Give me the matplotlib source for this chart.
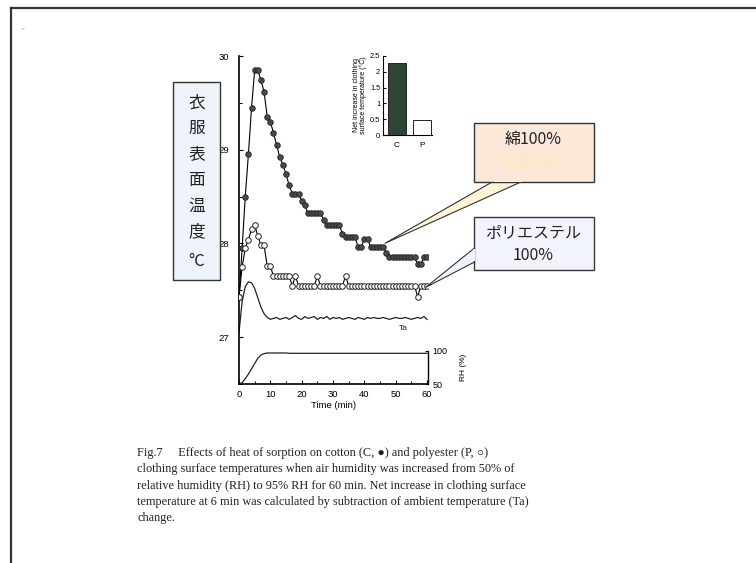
import matplotlib
matplotlib.use('Agg')
import matplotlib.pyplot as plt
from matplotlib.patches import Rectangle, Polygon
from matplotlib.lines import Line2D

# data (time in min, temperature in deg C)
time_min = list(range(61))
cotton = [27.43, 27.95, 28.50, 28.95, 29.45, 29.85, 29.85, 29.74, 29.62, 29.35,
          29.30, 29.18, 29.05, 28.92, 28.84, 28.74, 28.62, 28.53, 28.53, 28.53,
          28.45, 28.41, 28.32, 28.32, 28.32, 28.32, 28.32, 28.25, 28.20, 28.20,
          28.20, 28.20, 28.20, 28.10, 28.07, 28.07, 28.07, 28.07, 27.96, 27.96,
          28.05, 28.05, 27.96, 27.96, 27.96, 27.96, 27.96, 27.90, 27.85, 27.85,
          27.85, 27.85, 27.85, 27.85, 27.85, 27.85, 27.85, 27.78, 27.78, 27.85,
          27.85]
polyester = [27.43, 27.75, 27.95, 28.04, 28.15, 28.20, 28.08, 27.98, 27.98, 27.76,
             27.76, 27.65, 27.65, 27.65, 27.65, 27.65, 27.65, 27.55, 27.65, 27.55,
             27.55, 27.55, 27.55, 27.55, 27.55, 27.65, 27.55, 27.55, 27.55, 27.55,
             27.55, 27.55, 27.55, 27.55, 27.65, 27.55, 27.55, 27.55, 27.55, 27.55,
             27.55, 27.55, 27.55, 27.55, 27.55, 27.55, 27.55, 27.55, 27.55, 27.55,
             27.55, 27.55, 27.55, 27.55, 27.55, 27.55, 27.55, 27.43, 27.55, 27.55,
             27.55]
ta = [27.05, 27.38, 27.54, 27.59, 27.58, 27.52, 27.42, 27.32, 27.25, 27.21,
      27.19, 27.20, 27.21, 27.19, 27.20, 27.21, 27.19, 27.21, 27.23, 27.20,
      27.19, 27.22, 27.20, 27.21, 27.22, 27.19, 27.21, 27.20, 27.22, 27.19,
      27.21, 27.20, 27.21, 27.19, 27.20, 27.21, 27.20, 27.19, 27.21, 27.20,
      27.19, 27.21, 27.20, 27.21, 27.20, 27.20, 27.21, 27.20, 27.19, 27.20,
      27.21, 27.20, 27.20, 27.21, 27.20, 27.19, 27.20, 27.21, 27.20, 27.22,
      27.19]
rh = [50, 52, 58, 65, 73, 81, 89, 94, 96, 97, 97, 97, 97, 97, 97, 97,
      96.5, 96.5, 96.5, 96.5, 96.5, 96.5, 96.5, 96.5, 96.5, 96.5, 96.5, 96.5,
      96.5, 96.5, 96.5, 96.5, 96.5, 96.5, 96.5, 96.5, 96.5, 96.5, 96.5, 96.5,
      96.5, 96.5, 96.5, 96.5, 96.5, 96.5, 96.5, 96.5, 96.5, 96.5, 96.5, 96.5,
      96.5, 96.5, 96.5, 96.5, 96.5, 96.5, 96.5, 96.5, 96.5]

bar_labels = ['C', 'P']
bar_values = [2.29, 0.47]

caption = [
    'Fig.7     Effects of heat of sorption on cotton (C, \u25cf) and polyester (P, \u25cb)',
    'clothing surface temperatures when air humidity was increased from 50% of',
    'relative humidity (RH) to 95% RH for 60 min. Net increase in clothing surface',
    'temperature at 6 min was calculated by subtraction of ambient temperature (Ta)',
    'change.',
]

W, H = 756, 563
jp = ['Noto Sans CJK JP', 'DejaVu Sans']
sans = ['Liberation Sans', 'DejaVu Sans']
serif = ['Liberation Serif', 'DejaVu Serif']

fig = plt.figure(figsize=(W / 100, H / 100), dpi=100)

def px_axes(x0, y0, x1, y1):
    # rectangle given in image pixels (top-left origin)
    return [x0 / W, 1 - y1 / H, (x1 - x0) / W, (y1 - y0) / H]

# main temperature plot
ax = fig.add_axes(px_axes(239, 56, 428, 384))
ax.set_xlim(0, 60.3)
ax.set_ylim(26.54, 30.0)
ax.plot(time_min, cotton, color='black', lw=0.8, marker='o', ms=4.0,
        mfc='#4a4a4a', mec='#222222', mew=0.6, zorder=3)
ax.plot(time_min, polyester, color='black', lw=0.8, marker='o', ms=4.0,
        mfc='white', mec='#222222', mew=0.7, zorder=3)
ax.plot(time_min, ta, color='#222222', lw=0.9, zorder=2)
ax.text(51, 27.08, 'Ta', fontsize=6, family=sans, color='#222222')
ax.set_yticks([27, 28, 29, 30])
ax.set_yticks([26.5, 27.5, 28.5, 29.5], minor=True)
ax.set_xticks(range(0, 61, 10))
ax.set_xticks(range(0, 61, 5), minor=True)
ax.tick_params(direction='in', length=3, width=0.8, labelsize=6.8, pad=4)
ax.tick_params(which='minor', direction='in', length=2, width=0.7)
ax.tick_params(axis='y', pad=7)
for lab in ax.get_xticklabels() + ax.get_yticklabels():
    lab.set_family(sans)
ax.set_xlabel('Time (min)', fontsize=6.8, family=sans, labelpad=2)
for s in ['top', 'right']:
    ax.spines[s].set_visible(False)
for s in ['left', 'bottom']:
    ax.spines[s].set_linewidth(1.2)
ax.patch.set_alpha(0)

# RH panel at the bottom of the main plot
rax = fig.add_axes(px_axes(239, 351, 428, 384))
rax.set_xlim(0, 60.3)
rax.set_ylim(50, 100)
rax.plot(time_min, rh, color='#222222', lw=0.9)
rax.patch.set_alpha(0)
for s in ['top', 'left', 'bottom']:
    rax.spines[s].set_visible(False)
rax.spines['right'].set_linewidth(1.0)
rax.set_xticks([])
rax.yaxis.tick_right()
rax.set_yticks([50, 100])
rax.tick_params(axis='y', direction='in', length=2.5, labelsize=6.5, pad=3)
for lab in rax.get_yticklabels():
    lab.set_family(sans)
rax.yaxis.set_label_position('right')
rax.set_ylabel('RH (%)', fontsize=6, family=sans, labelpad=9)

# inset bar chart
bax = fig.add_axes(px_axes(383, 56, 432, 135))
bax.bar([0, 1], bar_values, width=0.72, color=['#2e4536', 'white'],
        edgecolor='#222222', linewidth=0.7)
bax.set_xlim(-0.55, 1.4)
bax.set_ylim(0, 2.5)
bax.set_yticks([0, 0.5, 1, 1.5, 2, 2.5])
bax.set_yticklabels(['0', '0.5', '1', '1.5', '2', '2.5'])
bax.set_xticks([0, 1])
bax.set_xticklabels(bar_labels)
bax.tick_params(axis='y', direction='in', length=2, labelsize=5.3, pad=2)
bax.tick_params(axis='x', length=0, labelsize=6, pad=5)
for lab in bax.get_xticklabels() + bax.get_yticklabels():
    lab.set_family(sans)
bax.set_ylabel('Net increase in clothing\nsurface temperature (\u00b0C)',
               fontsize=5, family=sans, labelpad=2, linespacing=1.0)
for s in ['top', 'right']:
    bax.spines[s].set_visible(False)
bax.patch.set_alpha(0)

# overlay in image pixels for boxes, callouts, caption and frame
ov = fig.add_axes([0, 0, 1, 1], zorder=5)
ov.set_xlim(0, W)
ov.set_ylim(H, 0)
ov.axis('off')

def to_px(axes, x, y):
    dx, dy = axes.transData.transform((x, y))
    return dx, H - dy

# page frame
ov.add_line(Line2D([11, 11], [7.5, H], color='#333333', lw=1.6))
ov.add_line(Line2D([11, W], [7.5, 7.5], color='#333333', lw=1.6))
ov.text(20, 35, '\u02dc', fontsize=6, color='#aaaaaa')

# vertical label box
ov.add_patch(Rectangle((173, 82), 47, 198, facecolor='#eef4fa',
                       edgecolor='#333333', lw=1.0))
for i, ch in enumerate('衣服表面温度'):
    ov.text(196.5, 103 + i * 25.8, ch, fontsize=12, family=jp,
            ha='center', va='center', color='#222222')
ov.text(196.5, 262, '\u00b0C', fontsize=12, family=jp, ha='center',
        va='center', color='#222222')

# cotton callout
tipx, tipy = to_px(ax, 46.5, 28.0)
ov.add_patch(Polygon([(493, 181.5), (522, 181.5), (tipx, tipy)], closed=True,
                     facecolor='#fdf5d6', edgecolor='#333333', lw=0.8))
ov.add_patch(Rectangle((474, 123), 119.5, 59, facecolor='#fbe8d8',
                       edgecolor='#333333', lw=1.0))
ov.add_patch(Rectangle((493.6, 180.8), 28, 1.6, facecolor='#fdf5d6',
                       edgecolor='none', zorder=3))
ov.text(533.5, 139, '綿100%', fontsize=11.5, family=jp, ha='center',
        va='center', color='#222222')
ov.text(530, 162, '吸湿発熱', fontsize=10.5, family=jp, ha='center',
        va='center', color='#f7ecbc')

# polyester callout
tipx, tipy = to_px(ax, 59.5, 27.53)
ov.add_patch(Polygon([(474.5, 248), (474.5, 262), (tipx, tipy)], closed=True,
                     facecolor='#eef3fa', edgecolor='#333333', lw=0.8))
ov.add_patch(Rectangle((474, 217), 119.5, 52.5, facecolor='#f1f5fb',
                       edgecolor='#333333', lw=1.0))
ov.add_patch(Rectangle((473, 248.6), 2.2, 12.8, facecolor='#eef3fa',
                       edgecolor='none', zorder=3))
ov.text(533.5, 233, 'ポリエステル', fontsize=11.5, family=jp, ha='center',
        va='center', color='#222222')
ov.text(533.5, 255, '100%', fontsize=11.5, family=jp, ha='center',
        va='center', color='#222222')

# caption
for i, line in enumerate(caption):
    ov.text(137, 453 + i * 16.3, line, fontsize=8.8, family=serif,
            ha='left', va='center', color='#222222')

fig.savefig('out.png', dpi=100)
